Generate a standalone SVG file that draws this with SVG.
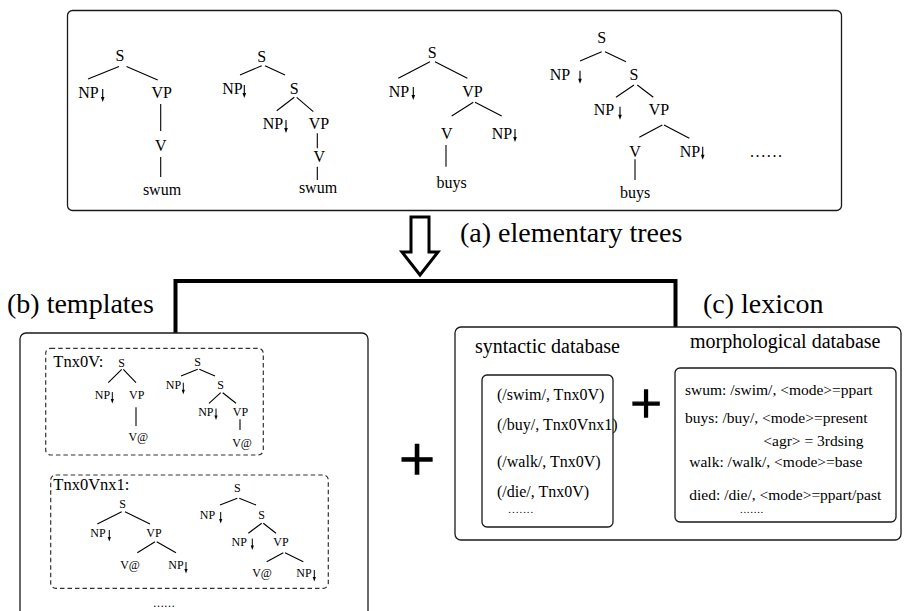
<svg xmlns="http://www.w3.org/2000/svg" xmlns:xlink="http://www.w3.org/1999/xlink" width="904" height="611" viewBox="0 0 904 611" font-family="'Liberation Serif', 'Times New Roman', 'DejaVu Serif', serif">
  <style>
    .n16 { font-size: 16px; text-anchor: middle; }
    .n12 { font-size: 12px; text-anchor: middle; }
    .lbl { font-size: 16.5px; }
    .cap { font-size: 28px; }
    .hd { font-size: 20px; }
    .e16 { font-size: 16px; }
    .e15 { font-size: 15.5px; }
    .dots { font-size: 11px; }
    .plus { font-size: 64px; text-anchor: middle; stroke: #000; stroke-width: 1.4; }
    .edge { stroke: #000; stroke-width: 1.1; fill: none; }
    .box { fill: none; stroke: #1a1a1a; stroke-width: 1.3; }
    .dash { fill: none; stroke: #333; stroke-width: 1.2; stroke-dasharray: 4.5 3; }
    .thick { fill: none; stroke: #000; stroke-width: 4; }
  </style>
  <defs>
    <!-- substitution marker: thin stem with a filled head -->
    <g id="dn">
      <line x1="0" y1="0" x2="0" y2="9" stroke="#000" stroke-width="1.1"/>
      <polygon points="-1.8,8 1.8,8 0,13" fill="#000"/>
    </g>
    <g id="dn2">
      <line x1="0" y1="0" x2="0" y2="8" stroke="#000" stroke-width="1"/>
      <polygon points="-1.6,7 1.6,7 0,11.5" fill="#000"/>
    </g>
  </defs>

  <rect width="904" height="611" fill="#fff"/>

  <!-- connectors: derivation arrow and the bracket joining templates and lexicon -->
  <g id="connectors">
    <polygon points="411,217 429,217 429,252 438,252 420,275 402,252 411,252" fill="#fff" stroke="#000" stroke-width="3" stroke-linejoin="miter"/>
    <path class="thick" d="M175.5,333 V281 H675.5 V327"/>
  </g>

  <!-- (a) elementary trees -->
  <g id="elementary-trees">
    <rect class="box" x="67.5" y="10.5" width="774" height="200" rx="5"/>

    <g id="tree-swum-intrans">
      <text class="n16" x="120" y="61">S</text>
      <line class="edge" x1="88" y1="79" x2="119" y2="66.5"/>
      <line class="edge" x1="126.5" y1="66.5" x2="157.7" y2="80"/>
      <text class="n16" x="88.5" y="98">NP</text>
      <use xlink:href="#dn" x="102.7" y="89"/>
      <text class="n16" x="161.7" y="98">VP</text>
      <line class="edge" x1="160.7" y1="104" x2="160.7" y2="131"/>
      <text class="n16" x="160.7" y="150.5">V</text>
      <line class="edge" x1="160.7" y1="157" x2="160.7" y2="177"/>
      <text class="n16" x="162" y="195">swum</text>
    </g>

    <g id="tree-swum-wh">
      <text class="n16" x="261.7" y="61.5">S</text>
      <line class="edge" x1="240" y1="75" x2="261.7" y2="65.7"/>
      <line class="edge" x1="265" y1="65.7" x2="285" y2="75"/>
      <text class="n16" x="232.5" y="94.3">NP</text>
      <use xlink:href="#dn" x="244.3" y="85"/>
      <text class="n16" x="294.3" y="94.3">S</text>
      <line class="edge" x1="276.7" y1="110.7" x2="294.3" y2="97.3"/>
      <line class="edge" x1="296.7" y1="97.3" x2="313.3" y2="111.7"/>
      <text class="n16" x="273" y="129.3">NP</text>
      <use xlink:href="#dn" x="286" y="120"/>
      <text class="n16" x="319" y="129.3">VP</text>
      <line class="edge" x1="317.3" y1="133.3" x2="317.3" y2="148.3"/>
      <text class="n16" x="319.3" y="162.3">V</text>
      <line class="edge" x1="317.3" y1="166.7" x2="317.3" y2="180"/>
      <text class="n16" x="318" y="193.3">swum</text>
    </g>

    <g id="tree-buys-trans">
      <text class="n16" x="432.3" y="58.3">S</text>
      <line class="edge" x1="398.3" y1="78.3" x2="430" y2="61.7"/>
      <line class="edge" x1="435" y1="61.7" x2="467.3" y2="78.3"/>
      <text class="n16" x="399" y="96.7">NP</text>
      <use xlink:href="#dn" x="413.3" y="87"/>
      <text class="n16" x="472.5" y="96.7">VP</text>
      <line class="edge" x1="451.7" y1="116" x2="473.3" y2="102.3"/>
      <line class="edge" x1="475" y1="102.3" x2="501.7" y2="116"/>
      <text class="n16" x="446.7" y="139.3">V</text>
      <text class="n16" x="502" y="139.3">NP</text>
      <use xlink:href="#dn" x="515" y="129"/>
      <line class="edge" x1="446" y1="145" x2="446" y2="166.7"/>
      <text class="n16" x="451.7" y="188.3">buys</text>
    </g>

    <g id="tree-buys-wh">
      <text class="n16" x="601.7" y="43.3">S</text>
      <line class="edge" x1="580" y1="61" x2="601.7" y2="51.7"/>
      <line class="edge" x1="605" y1="51.7" x2="626" y2="61.7"/>
      <text class="n16" x="560" y="80">NP</text>
      <use xlink:href="#dn" x="580" y="70.7"/>
      <text class="n16" x="634" y="80">S</text>
      <line class="edge" x1="616" y1="97.3" x2="634" y2="85"/>
      <line class="edge" x1="637.3" y1="85" x2="653.3" y2="97.3"/>
      <text class="n16" x="604" y="115">NP</text>
      <use xlink:href="#dn" x="620" y="106.7"/>
      <text class="n16" x="659" y="115">VP</text>
      <line class="edge" x1="639.3" y1="137.3" x2="662.3" y2="125"/>
      <line class="edge" x1="664" y1="125" x2="689.3" y2="138.3"/>
      <text class="n16" x="635" y="157.3">V</text>
      <text class="n16" x="690" y="157.3">NP</text>
      <use xlink:href="#dn" x="702.7" y="146.7"/>
      <line class="edge" x1="635" y1="159.3" x2="635" y2="180"/>
      <text class="n16" x="635" y="198.3">buys</text>
    </g>

    <text class="e16" x="750" y="157" textLength="32" lengthAdjust="spacing">......</text>
  </g>

  <text id="caption-a" class="cap" x="460" y="242">(a) elementary trees</text>
  <text id="caption-b" class="cap" x="7" y="313">(b) templates</text>
  <text id="caption-c" class="cap" x="703" y="313">(c) lexicon</text>

  <!-- (b) templates -->
  <g id="templates">
    <rect class="box" x="20" y="333" width="348" height="300" rx="6"/>

    <g id="tpl-tnx0v">
      <rect class="dash" x="45.7" y="348.3" width="217.6" height="106.7" rx="5"/>
      <text class="lbl" x="53.3" y="367.3">Tnx0V:</text>
      <text class="n12" x="121.7" y="367.3">S</text>
      <line class="edge" x1="108.3" y1="382.7" x2="121.7" y2="369.3"/>
      <line class="edge" x1="123.3" y1="369.3" x2="136" y2="382.7"/>
      <text class="n12" x="102.5" y="399.3">NP</text>
      <use xlink:href="#dn2" x="112.3" y="392"/>
      <text class="n12" x="136.7" y="399.3">VP</text>
      <line class="edge" x1="136" y1="407.3" x2="136" y2="426"/>
      <text class="n12" x="138.3" y="440.7">V@</text>

      <text class="n12" x="197.7" y="366">S</text>
      <line class="edge" x1="181" y1="376" x2="197.7" y2="369.3"/>
      <line class="edge" x1="199.3" y1="369.3" x2="215" y2="376"/>
      <text class="n12" x="173.5" y="389.3">NP</text>
      <use xlink:href="#dn2" x="183.3" y="382.7"/>
      <text class="n12" x="220.7" y="389.3">S</text>
      <line class="edge" x1="209" y1="403.3" x2="220.7" y2="392.7"/>
      <line class="edge" x1="222.7" y1="392.7" x2="236" y2="403.3"/>
      <text class="n12" x="205.8" y="416">NP</text>
      <use xlink:href="#dn2" x="216" y="408.5"/>
      <text class="n12" x="240.5" y="416">VP</text>
      <line class="edge" x1="240" y1="419.3" x2="240" y2="430"/>
      <text class="n12" x="242" y="446.7">V@</text>
    </g>

    <g id="tpl-tnx0vnx1">
      <rect class="dash" x="50.7" y="475" width="277.6" height="113.3" rx="5"/>
      <text class="lbl" x="53.3" y="490">Tnx0Vnx1:</text>
      <text class="n12" x="122.7" y="508.3">S</text>
      <line class="edge" x1="97.3" y1="524" x2="121.7" y2="511.7"/>
      <line class="edge" x1="125" y1="511.7" x2="150" y2="524"/>
      <text class="n12" x="98" y="537.3">NP</text>
      <use xlink:href="#dn2" x="109.3" y="530"/>
      <text class="n12" x="154" y="537.3">VP</text>
      <line class="edge" x1="137.3" y1="552.7" x2="155" y2="541.7"/>
      <line class="edge" x1="156.7" y1="541.7" x2="176" y2="552.7"/>
      <text class="n12" x="130" y="569.3">V@</text>
      <text class="n12" x="176" y="569.3">NP</text>
      <use xlink:href="#dn2" x="186" y="562"/>

      <text class="n12" x="237.3" y="491.7">S</text>
      <line class="edge" x1="220" y1="505" x2="237.3" y2="498.3"/>
      <line class="edge" x1="239.3" y1="498.3" x2="256" y2="505"/>
      <text class="n12" x="207.5" y="519.3">NP</text>
      <use xlink:href="#dn2" x="220.7" y="512"/>
      <text class="n12" x="261.7" y="519.3">S</text>
      <line class="edge" x1="248.3" y1="533.3" x2="261.7" y2="523.3"/>
      <line class="edge" x1="263.3" y1="523.3" x2="276" y2="533.3"/>
      <text class="n12" x="239.2" y="546">NP</text>
      <use xlink:href="#dn2" x="252.3" y="538.5"/>
      <text class="n12" x="281" y="546">VP</text>
      <line class="edge" x1="266.7" y1="561.7" x2="283.3" y2="552.7"/>
      <line class="edge" x1="285" y1="552.7" x2="303.3" y2="561.7"/>
      <text class="n12" x="262" y="577.3">V@</text>
      <text class="n12" x="304" y="577.3">NP</text>
      <use xlink:href="#dn2" x="314.3" y="570"/>
    </g>

    <text class="n12" x="164" y="606.7" textLength="21.5" lengthAdjust="spacing">......</text>
  </g>

  <text id="plus-main" class="plus" x="417" y="481">+</text>

  <!-- (c) lexicon -->
  <g id="lexicon">
    <rect class="box" x="455" y="327" width="446" height="213" rx="6"/>

    <g id="syntactic-db">
      <text class="hd" x="475" y="353">syntactic database</text>
      <rect class="box" x="482" y="375" width="131" height="152" rx="5"/>
      <text class="e16" x="497" y="400">(/swim/, Tnx0V)</text>
      <text class="e16" x="497" y="430">(/buy/, Tnx0Vnx1)</text>
      <text class="e16" x="497" y="467.3">(/walk/, Tnx0V)</text>
      <text class="e16" x="497" y="497.3">(/die/, Tnx0V)</text>
      <text class="dots" x="508.3" y="513" textLength="25" lengthAdjust="spacing">.......</text>
    </g>

    <text id="plus-lex" class="plus" x="646" y="423" style="font-size:56px">+</text>

    <g id="morphological-db">
      <text class="hd" x="690" y="348.3">morphological database</text>
      <rect class="box" x="675" y="368" width="221" height="154" rx="5"/>
      <text class="e15" x="685" y="395">swum: /swim/, &lt;mode&gt;=ppart</text>
      <text class="e15" x="685" y="422.7">buys: /buy/, &lt;mode&gt;=present</text>
      <text class="e15" x="763.3" y="446">&lt;agr&gt; = 3rdsing</text>
      <text class="e15" x="689.3" y="467.3">walk: /walk/, &lt;mode&gt;=base</text>
      <text class="e15" x="689.3" y="500">died: /die/, &lt;mode&gt;=ppart/past</text>
      <text class="dots" x="740" y="513" textLength="23.3" lengthAdjust="spacing">.......</text>
    </g>
  </g>
</svg>
